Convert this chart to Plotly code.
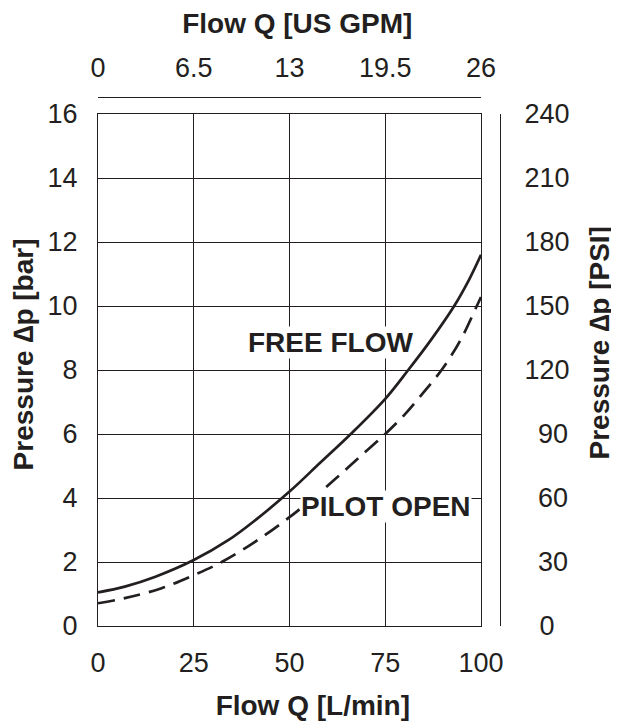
import plotly.graph_objects as go

# Data
flow_free = [0, 7, 15, 25, 34, 41, 50, 58, 66, 75, 81, 87, 93, 97, 100]
dp_free = [1.05, 1.23, 1.54, 2.06, 2.68, 3.3, 4.2, 5.1, 6.0, 7.1, 8.0, 8.95, 10.0, 10.85, 11.6]

flow_pilot = [0, 7, 16.6, 25, 32.3, 41, 50, 56, 62, 68, 75, 80, 85, 89.7, 94.5, 98.9, 100]
dp_pilot = [0.71, 0.87, 1.18, 1.59, 2.0, 2.63, 3.4, 3.98, 4.6, 5.25, 6.0, 6.6, 7.3, 8.0, 8.9, 10.0, 10.28]

x_ticks = [0, 25, 50, 75, 100]
y_ticks = [0, 2, 4, 6, 8, 10, 12, 14, 16]
gpm_ticks = [0, 6.5, 13, 19.5, 26]
gpm_labels = ["0", "6.5", "13", "19.5", "26"]
psi_ticks = [0, 30, 60, 90, 120, 150, 180, 210, 240]
psi_labels = ["\u2007" + "0", "\u2002" + "30", "\u2002" + "60", "\u2002" + "90",
              "120", "150", "180", "210", "240"]

FONT = "Liberation Sans, Arial, Helvetica, sans-serif"
INK = "#231f20"
TICK_SIZE = 27
TITLE_SIZE = 28
NB = "\u00a0"

fig = go.Figure()
fig.add_trace(go.Scatter(x=flow_free, y=dp_free, mode="lines",
                         line=dict(color=INK, width=2.7, shape="spline", smoothing=1.0),
                         showlegend=False, hoverinfo="skip"))
fig.add_trace(go.Scatter(x=flow_pilot, y=dp_pilot, mode="lines",
                         line=dict(color=INK, width=2.7, shape="spline", smoothing=1.0,
                                   dash="17px,9px"),
                         showlegend=False, hoverinfo="skip"))
# secondary axes carrier (invisible)
fig.add_trace(go.Scatter(x=[], y=[], xaxis="x2", yaxis="y2", mode="lines",
                         showlegend=False, hoverinfo="skip"))

xdom = [0, 383 / 402]
ydom = [0, 512 / 529]

fig.update_layout(
    width=611, height=717,
    margin=dict(l=90, r=119, t=89, b=99, pad=0, autoexpand=False),
    paper_bgcolor="white", plot_bgcolor="white",
    font=dict(family=FONT, color=INK, size=TICK_SIZE),
    xaxis=dict(domain=xdom, range=[0, 100], tickvals=x_ticks,
               showgrid=True, gridcolor=INK, gridwidth=1.3,
               showline=True, linecolor=INK, linewidth=1.3, mirror=True,
               ticks="", zeroline=False, ticklabelstandoff=12, automargin=False,
               tickfont=dict(size=TICK_SIZE),
               title=dict(text="<b>" + NB * 6 + "Flow Q [L/min]</b>",
                          font=dict(size=TITLE_SIZE), standoff=18)),
    yaxis=dict(domain=ydom, range=[0, 16], tickvals=y_ticks,
               showgrid=True, gridcolor=INK, gridwidth=1.3,
               showline=True, linecolor=INK, linewidth=1.3, mirror=True,
               ticks="", zeroline=False, ticklabelstandoff=14, automargin=False,
               tickfont=dict(size=TICK_SIZE),
               title=dict(text="<b>" + NB * 4 + "Pressure \u2206p [bar]</b>",
                          font=dict(size=TITLE_SIZE), standoff=8)),
    xaxis2=dict(domain=xdom, range=[0, 26], tickvals=gpm_ticks, ticktext=gpm_labels,
                overlaying="x", side="top", anchor="free", position=1,
                showgrid=False, zeroline=False, showline=True, automargin=False,
                linecolor=INK, linewidth=1.3, ticks="", ticklabelstandoff=9,
                tickfont=dict(size=TICK_SIZE),
                title=dict(text="<b>" + NB * 2 + "Flow Q [US GPM]</b>",
                           font=dict(size=TITLE_SIZE), standoff=12)),
    yaxis2=dict(range=[0, 240], tickvals=psi_ticks, ticktext=psi_labels,
                overlaying="y", side="right", anchor="free", position=1,
                showgrid=False, zeroline=False, showline=True, automargin=False,
                linecolor=INK, linewidth=1.3, ticks="", ticklabelstandoff=18,
                tickfont=dict(size=TICK_SIZE),
                title=dict(text="<b>" + NB * 7 + "Pressure \u2206p [PSI]</b>",
                           font=dict(size=TITLE_SIZE), standoff=20)),
    annotations=[
        dict(x=60.6, y=8.87, xref="x", yref="y", text="<b>FREE FLOW</b>", showarrow=False,
             font=dict(size=TITLE_SIZE, family=FONT, color=INK), bgcolor="white", borderpad=0),
        dict(x=75.2, y=3.72, xref="x", yref="y", text="<b>PILOT OPEN</b>", showarrow=False,
             font=dict(size=TITLE_SIZE, family=FONT, color=INK), bgcolor="white", borderpad=0),
    ],
)

fig.write_html("out.html")
